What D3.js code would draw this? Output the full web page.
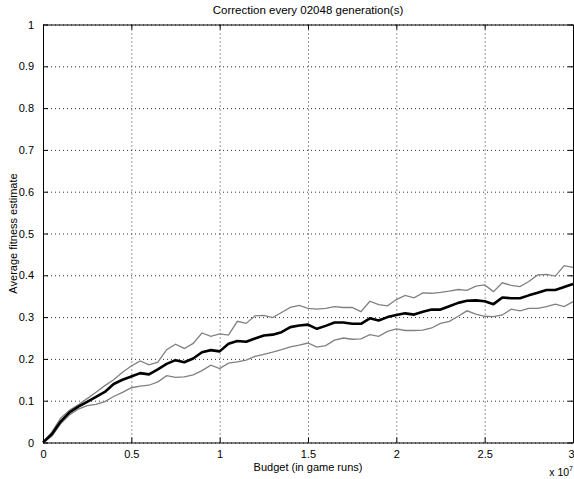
<!DOCTYPE html>
<html>
<head>
<meta charset="utf-8">
<script src="https://cdn.jsdelivr.net/npm/d3@7"></script>
<style>
  body { margin: 0; background: #fff; }
  svg { display: block; font-family: "Liberation Sans", Arial, Helvetica, sans-serif; }
</style>
</head>
<body>
<div id="chart"></div>
<script>
// budget in units of 1e7 game runs
const budget = [0, 0.05, 0.1, 0.15, 0.2, 0.25, 0.3, 0.35, 0.4, 0.45,
  0.5, 0.55, 0.6, 0.65, 0.7, 0.75, 0.8, 0.85, 0.9, 0.95,
  1.0, 1.05, 1.1, 1.15, 1.2, 1.25, 1.3, 1.35, 1.4, 1.45,
  1.5, 1.55, 1.6, 1.65, 1.7, 1.75, 1.8, 1.85, 1.9, 1.95,
  2.0, 2.05, 2.1, 2.15, 2.2, 2.25, 2.3, 2.35, 2.4, 2.45,
  2.5, 2.55, 2.6, 2.65, 2.7, 2.75, 2.8, 2.85, 2.9, 2.95, 3.0];

const meanFitness = [0, 0.02, 0.05, 0.072, 0.086, 0.097, 0.109, 0.121, 0.14, 0.15,
  0.158, 0.166, 0.163, 0.175, 0.188, 0.197, 0.192, 0.201, 0.216, 0.221,
  0.218, 0.236, 0.243, 0.241, 0.249, 0.256, 0.258, 0.264, 0.276, 0.28,
  0.282, 0.272, 0.279, 0.287, 0.287, 0.284, 0.284, 0.297, 0.292, 0.3,
  0.305, 0.309, 0.306, 0.313, 0.318, 0.318, 0.326, 0.334, 0.339, 0.34,
  0.338, 0.331, 0.347, 0.345, 0.345, 0.352, 0.358, 0.365, 0.365, 0.372, 0.379];

const upperFitness = [0, 0.025, 0.058, 0.077, 0.09, 0.105, 0.12, 0.136, 0.15, 0.168,
  0.183, 0.195, 0.186, 0.192, 0.222, 0.235, 0.225, 0.237, 0.262, 0.254,
  0.26, 0.257, 0.29, 0.285, 0.303, 0.304, 0.299, 0.311, 0.323, 0.328,
  0.321, 0.319, 0.321, 0.325, 0.323, 0.323, 0.313, 0.338, 0.33, 0.327,
  0.342, 0.352, 0.346, 0.358, 0.357, 0.359, 0.362, 0.366, 0.364, 0.374,
  0.377, 0.361, 0.382, 0.376, 0.373, 0.385, 0.401, 0.402, 0.398, 0.423, 0.419];

const lowerFitness = [0, 0.015, 0.045, 0.066, 0.08, 0.088, 0.091, 0.098, 0.11, 0.12,
  0.131, 0.135, 0.137, 0.145, 0.16, 0.156, 0.157, 0.162, 0.172, 0.185,
  0.177, 0.19, 0.193, 0.197, 0.206, 0.211, 0.216, 0.222, 0.229, 0.233,
  0.238, 0.228, 0.232, 0.245, 0.25, 0.247, 0.248, 0.258, 0.254, 0.266,
  0.272, 0.268, 0.268, 0.269, 0.274, 0.285, 0.29, 0.302, 0.315, 0.307,
  0.302, 0.301, 0.305, 0.319, 0.315, 0.321, 0.321, 0.325, 0.331, 0.325, 0.337];

const xTicks = [0, 0.5, 1, 1.5, 2, 2.5, 3];
const yTicks = [0, 0.1, 0.2, 0.3, 0.4, 0.5, 0.6, 0.7, 0.8, 0.9, 1];

const W = 574, H = 479;
const margin = {top: 24.5, right: 1, bottom: 36.5, left: 43};
const width = W - margin.left - margin.right;
const height = H - margin.top - margin.bottom;

const svg = d3.select('#chart')
  .append('svg')
  .attr('width', W)
  .attr('height', H);

const g = svg.append('g')
  .attr('transform', `translate(${margin.left}, ${margin.top})`);

const x = d3.scaleLinear().domain([0, 3]).range([0, width]);
const y = d3.scaleLinear().domain([0, 1]).range([height, 0]);

// dotted grid
g.append('g')
  .attr('class', 'grid')
  .attr('transform', `translate(0, ${height})`)
  .call(d3.axisBottom(x).tickValues(xTicks).tickSize(-height).tickFormat(''));
g.append('g')
  .attr('class', 'grid')
  .call(d3.axisLeft(y).tickValues(yTicks).tickSize(-width).tickFormat(''));
g.selectAll('.grid .domain').remove();
g.selectAll('.grid line')
  .attr('stroke', '#333')
  .attr('stroke-width', 1)
  .attr('stroke-dasharray', '1,3');

// series
const line = d3.line()
  .x((d, i) => x(budget[i]))
  .y(d => y(d));

g.append('path')
  .datum(upperFitness)
  .attr('fill', 'none')
  .attr('stroke', '#808080')
  .attr('stroke-width', 1.3)
  .attr('d', line);

g.append('path')
  .datum(lowerFitness)
  .attr('fill', 'none')
  .attr('stroke', '#808080')
  .attr('stroke-width', 1.3)
  .attr('d', line);

g.append('path')
  .datum(meanFitness)
  .attr('fill', 'none')
  .attr('stroke', '#000')
  .attr('stroke-width', 2.6)
  .attr('stroke-linejoin', 'round')
  .attr('d', line);

// axes with inward ticks (box on)
const fmt = d3.format('~g');
const xAxis = g.append('g')
  .attr('transform', `translate(0, ${height})`)
  .call(d3.axisBottom(x).tickValues(xTicks).tickSizeInner(-5).tickSizeOuter(0).tickPadding(8).tickFormat(fmt));
const yAxis = g.append('g')
  .call(d3.axisLeft(y).tickValues(yTicks).tickSizeInner(-5).tickSizeOuter(0).tickPadding(9).tickFormat(fmt));
const xTop = g.append('g')
  .call(d3.axisTop(x).tickValues(xTicks).tickSizeInner(-5).tickSizeOuter(0).tickFormat(''));
const yRight = g.append('g')
  .attr('transform', `translate(${width}, 0)`)
  .call(d3.axisRight(y).tickValues(yTicks).tickSizeInner(-5).tickSizeOuter(0).tickFormat(''));

[xAxis, yAxis, xTop, yRight].forEach(a => {
  a.selectAll('.domain').attr('stroke', '#000');
  a.selectAll('.tick line').attr('stroke', '#000');
  a.selectAll('text')
    .attr('fill', '#000')
    .style('font-size', '11px')
    .style('font-family', '"Liberation Sans", Arial, sans-serif');
});
// keep the last x label inside the page
xAxis.selectAll('.tick text')
  .filter(d => d === 3)
  .attr('text-anchor', 'end')
  .attr('dx', 1);

// labels
svg.append('text')
  .attr('x', margin.left + width / 2)
  .attr('y', 14)
  .attr('text-anchor', 'middle')
  .style('font-size', '11.5px')
  .text('Correction every 02048 generation(s)');

svg.append('text')
  .attr('x', margin.left + width / 2)
  .attr('y', 471)
  .attr('text-anchor', 'middle')
  .style('font-size', '11px')
  .text('Budget (in game runs)');

svg.append('text')
  .attr('transform', `translate(17, ${margin.top + height / 2}) rotate(-90)`)
  .attr('text-anchor', 'middle')
  .style('font-size', '11px')
  .text('Average fitness estimate');

const expo = svg.append('text')
  .attr('x', 573)
  .attr('y', 476)
  .attr('text-anchor', 'end')
  .style('font-size', '10.5px');
expo.append('tspan').text('x 10');
expo.append('tspan').attr('dy', -5).style('font-size', '7px').text('7');
</script>
</body>
</html>
